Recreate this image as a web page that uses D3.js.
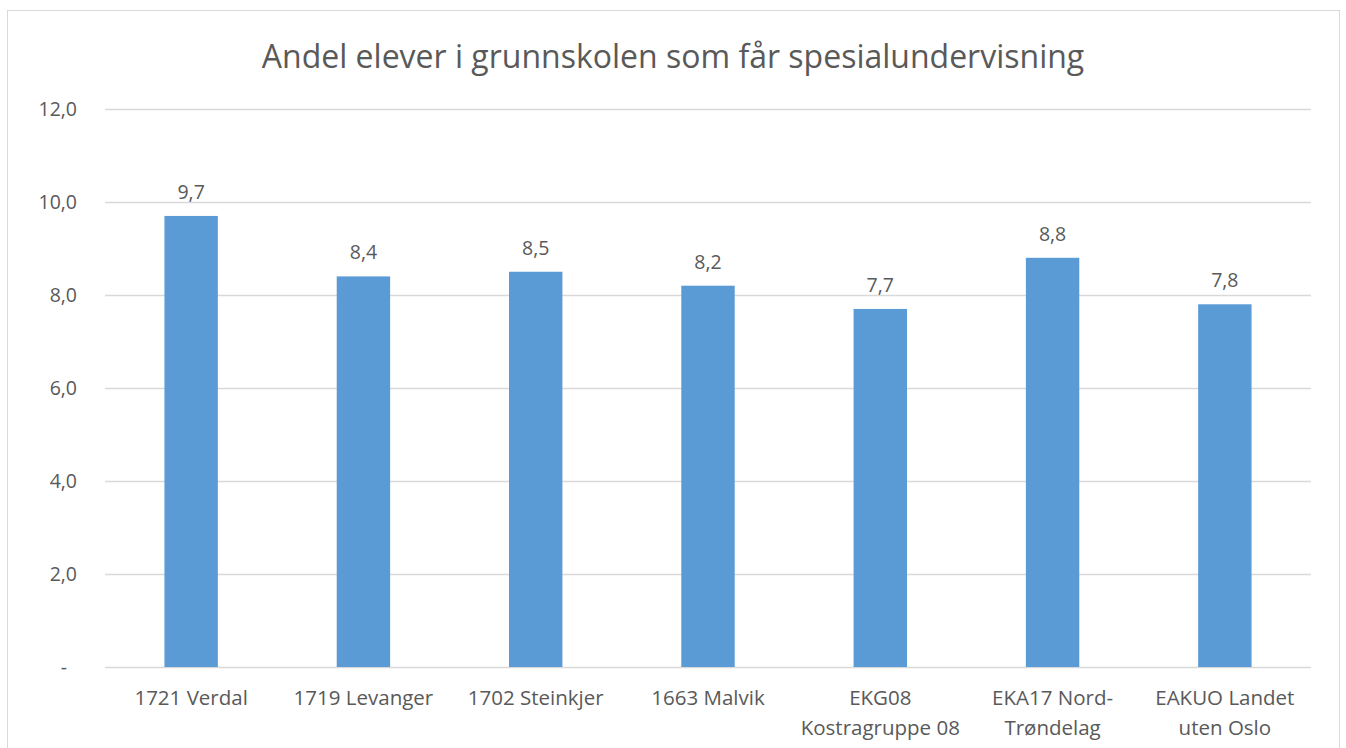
<!DOCTYPE html>
<html>
<head>
<meta charset="utf-8">
<script src="https://cdn.jsdelivr.net/npm/d3@7"></script>
<style>
  body { margin: 0; background: #fff; }
  svg text { font-family: "Open Sans", "Noto Sans", sans-serif; fill: #595959; }
</style>
</head>
<body>
<svg id="chart" width="1346" height="748"></svg>
<script>
// data
var categories = ['1721 Verdal', '1719 Levanger', '1702 Steinkjer', '1663 Malvik',
  'EKG08 Kostragruppe 08', 'EKA17 Nord-Trøndelag', 'EAKUO Landet uten Oslo'];
var labelLines = [['1721 Verdal'], ['1719 Levanger'], ['1702 Steinkjer'], ['1663 Malvik'],
  ['EKG08', 'Kostragruppe 08'], ['EKA17 Nord-', 'Trøndelag'], ['EAKUO Landet', 'uten Oslo']];
var values = [9.7, 8.4, 8.5, 8.2, 7.7, 8.8, 7.8];
var yTicks = [0, 2, 4, 6, 8, 10, 12];
var title = 'Andel elever i grunnskolen som får spesialundervisning';

var svg = d3.select('#chart');
var margin = {top: 109, right: 35, bottom: 81, left: 105};
var width = 1346 - margin.left - margin.right;
var height = 748 - margin.top - margin.bottom;

// chart frame
svg.append('rect')
  .attr('x', 7.5).attr('y', 10.5)
  .attr('width', 1332).attr('height', 760)
  .attr('fill', '#fff').attr('stroke', '#d9d9d9');

svg.append('text')
  .attr('x', 673).attr('y', 68)
  .attr('text-anchor', 'middle')
  .style('font-size', '32px')
  .text(title);

var g = svg.append('g').attr('transform', 'translate(' + margin.left + ',' + margin.top + ')');

var x = d3.scaleBand().domain(categories).range([0, width]).paddingInner(0.69).paddingOuter(0.345);
var y = d3.scaleLinear().domain([0, 12]).range([height, 0]);

// gridlines
g.selectAll('.grid').data(yTicks).enter().append('line')
  .attr('x1', 0).attr('x2', width)
  .attr('y1', function(d){ return Math.round(y(d)) + 0.5; })
  .attr('y2', function(d){ return Math.round(y(d)) + 0.5; })
  .attr('stroke', '#d9d9d9').attr('stroke-width', 1.5);

// y axis labels
var yAxis = d3.axisLeft(y).tickValues(yTicks).tickSize(0).tickPadding(28)
  .tickFormat(function(d){ return d === 0 ? '-' : d3.format('.1f')(d).replace('.', ','); });
var ya = g.append('g').call(yAxis);
ya.select('.domain').remove();
ya.selectAll('text').style('font-size', '19.5px').style('font-family', '"Open Sans", sans-serif').attr('fill', '#595959');
ya.selectAll('.tick text').filter(function(d){ return d === 0; }).attr('dx', -10);

// bars
g.selectAll('.bar').data(values).enter().append('rect')
  .attr('x', function(d, i){ return x(categories[i]); })
  .attr('y', function(d){ return y(d); })
  .attr('width', x.bandwidth())
  .attr('height', function(d){ return height - y(d); })
  .attr('fill', '#5b9bd5');

// value labels
g.selectAll('.val').data(values).enter().append('text')
  .attr('x', function(d, i){ return x(categories[i]) + x.bandwidth() / 2; })
  .attr('y', function(d){ return y(d) - 17; })
  .attr('text-anchor', 'middle')
  .style('font-size', '19.5px')
  .text(function(d){ return d3.format('.1f')(d).replace('.', ','); });

// x axis category labels
var xl = g.selectAll('.xl').data(categories).enter().append('text')
  .attr('x', function(d){ return x(d) + x.bandwidth() / 2; })
  .attr('y', height + 38)
  .attr('text-anchor', 'middle')
  .style('font-size', '20.5px');
xl.each(function(d, i){
  var t = d3.select(this);
  labelLines[i].forEach(function(line, j){
    t.append('tspan').attr('x', t.attr('x')).attr('dy', j === 0 ? 0 : 30).text(line);
  });
});
</script>
</body>
</html>
